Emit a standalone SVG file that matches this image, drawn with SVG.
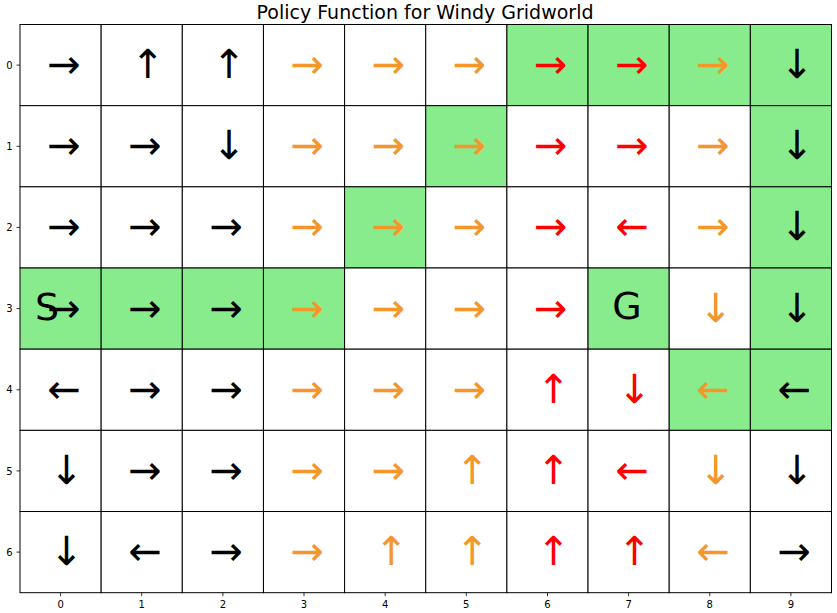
<svg xmlns="http://www.w3.org/2000/svg" width="837" height="613" viewBox="0 0 837 613">
<style>
.c{fill:#ffffff;stroke:#000;stroke-width:1}
.g{fill:#88ec8c;stroke:#000;stroke-width:1}
.a{font-family:"DejaVu Sans",sans-serif;font-size:40px;text-anchor:middle}
.k{fill:#000}
.o{fill:#f5962a}
.r{fill:#ff0000}
.t{font-family:"DejaVu Sans",sans-serif;font-size:10px;fill:#000;text-anchor:middle}
.tk{stroke:#000;stroke-width:0.8}
.L{font-family:"DejaVu Sans",sans-serif;font-size:38px;fill:#000;text-anchor:middle}
</style>
<rect width="837" height="613" fill="#fff"/>
<text x="425" y="19" font-family="DejaVu Sans, sans-serif" font-size="19" text-anchor="middle" fill="#000">Policy Function for Windy Gridworld</text>
<g id="row0">
<g id="cell-0-0"><rect class="c" x="20" y="24.5" width="81.15" height="81.17"/><text class="a k" x="63.9" y="78.1">→</text></g>
<g id="cell-0-1"><rect class="c" x="101.15" y="24.5" width="81.15" height="81.17"/><text class="a k" x="147.7" y="78.1">↑</text></g>
<g id="cell-0-2"><rect class="c" x="182.3" y="24.5" width="81.15" height="81.17"/><text class="a k" x="228.9" y="78.1">↑</text></g>
<g id="cell-0-3"><rect class="c" x="263.45" y="24.5" width="81.15" height="81.17"/><text class="a o" x="307.3" y="78.1">→</text></g>
<g id="cell-0-4"><rect class="c" x="344.6" y="24.5" width="81.15" height="81.17"/><text class="a o" x="388.5" y="78.1">→</text></g>
<g id="cell-0-5"><rect class="c" x="425.75" y="24.5" width="81.15" height="81.17"/><text class="a o" x="469.6" y="78.1">→</text></g>
<g id="cell-0-6"><rect class="g" x="506.9" y="24.5" width="81.15" height="81.17"/><text class="a r" x="550.8" y="78.1">→</text></g>
<g id="cell-0-7"><rect class="g" x="588.05" y="24.5" width="81.15" height="81.17"/><text class="a r" x="631.9" y="78.1">→</text></g>
<g id="cell-0-8"><rect class="g" x="669.2" y="24.5" width="81.15" height="81.17"/><text class="a o" x="713.1" y="78.1">→</text></g>
<g id="cell-0-9"><rect class="g" x="750.35" y="24.5" width="81.15" height="81.17"/><text class="a k" x="796.9" y="78.1">↓</text></g>
</g>
<g id="row1">
<g id="cell-1-0"><rect class="c" x="20" y="105.67" width="81.15" height="81.17"/><text class="a k" x="63.9" y="159.3">→</text></g>
<g id="cell-1-1"><rect class="c" x="101.15" y="105.67" width="81.15" height="81.17"/><text class="a k" x="145" y="159.3">→</text></g>
<g id="cell-1-2"><rect class="c" x="182.3" y="105.67" width="81.15" height="81.17"/><text class="a k" x="228.9" y="159.3">↓</text></g>
<g id="cell-1-3"><rect class="c" x="263.45" y="105.67" width="81.15" height="81.17"/><text class="a o" x="307.3" y="159.3">→</text></g>
<g id="cell-1-4"><rect class="c" x="344.6" y="105.67" width="81.15" height="81.17"/><text class="a o" x="388.5" y="159.3">→</text></g>
<g id="cell-1-5"><rect class="g" x="425.75" y="105.67" width="81.15" height="81.17"/><text class="a o" x="469.6" y="159.3">→</text></g>
<g id="cell-1-6"><rect class="c" x="506.9" y="105.67" width="81.15" height="81.17"/><text class="a r" x="550.8" y="159.3">→</text></g>
<g id="cell-1-7"><rect class="c" x="588.05" y="105.67" width="81.15" height="81.17"/><text class="a r" x="631.9" y="159.3">→</text></g>
<g id="cell-1-8"><rect class="c" x="669.2" y="105.67" width="81.15" height="81.17"/><text class="a o" x="713.1" y="159.3">→</text></g>
<g id="cell-1-9"><rect class="g" x="750.35" y="105.67" width="81.15" height="81.17"/><text class="a k" x="796.9" y="159.3">↓</text></g>
</g>
<g id="row2">
<g id="cell-2-0"><rect class="c" x="20" y="186.84" width="81.15" height="81.17"/><text class="a k" x="63.9" y="240.4">→</text></g>
<g id="cell-2-1"><rect class="c" x="101.15" y="186.84" width="81.15" height="81.17"/><text class="a k" x="145" y="240.4">→</text></g>
<g id="cell-2-2"><rect class="c" x="182.3" y="186.84" width="81.15" height="81.17"/><text class="a k" x="226.2" y="240.4">→</text></g>
<g id="cell-2-3"><rect class="c" x="263.45" y="186.84" width="81.15" height="81.17"/><text class="a o" x="307.3" y="240.4">→</text></g>
<g id="cell-2-4"><rect class="g" x="344.6" y="186.84" width="81.15" height="81.17"/><text class="a o" x="388.5" y="240.4">→</text></g>
<g id="cell-2-5"><rect class="c" x="425.75" y="186.84" width="81.15" height="81.17"/><text class="a o" x="469.6" y="240.4">→</text></g>
<g id="cell-2-6"><rect class="c" x="506.9" y="186.84" width="81.15" height="81.17"/><text class="a r" x="550.8" y="240.4">→</text></g>
<g id="cell-2-7"><rect class="c" x="588.05" y="186.84" width="81.15" height="81.17"/><text class="a r" x="631.9" y="240.4">←</text></g>
<g id="cell-2-8"><rect class="c" x="669.2" y="186.84" width="81.15" height="81.17"/><text class="a o" x="713.1" y="240.4">→</text></g>
<g id="cell-2-9"><rect class="g" x="750.35" y="186.84" width="81.15" height="81.17"/><text class="a k" x="796.9" y="240.4">↓</text></g>
</g>
<g id="row3">
<g id="cell-3-0"><rect class="g" x="20" y="268.01" width="81.15" height="81.17"/><text class="L" x="47" y="320">S</text><text class="a k" x="63.9" y="321.6">→</text></g>
<g id="cell-3-1"><rect class="g" x="101.15" y="268.01" width="81.15" height="81.17"/><text class="a k" x="145" y="321.6">→</text></g>
<g id="cell-3-2"><rect class="g" x="182.3" y="268.01" width="81.15" height="81.17"/><text class="a k" x="226.2" y="321.6">→</text></g>
<g id="cell-3-3"><rect class="g" x="263.45" y="268.01" width="81.15" height="81.17"/><text class="a o" x="307.3" y="321.6">→</text></g>
<g id="cell-3-4"><rect class="c" x="344.6" y="268.01" width="81.15" height="81.17"/><text class="a o" x="388.5" y="321.6">→</text></g>
<g id="cell-3-5"><rect class="c" x="425.75" y="268.01" width="81.15" height="81.17"/><text class="a o" x="469.6" y="321.6">→</text></g>
<g id="cell-3-6"><rect class="c" x="506.9" y="268.01" width="81.15" height="81.17"/><text class="a r" x="550.8" y="321.6">→</text></g>
<g id="cell-3-7"><rect class="g" x="588.05" y="268.01" width="81.15" height="81.17"/><text class="L" x="627" y="319">G</text></g>
<g id="cell-3-8"><rect class="c" x="669.2" y="268.01" width="81.15" height="81.17"/><text class="a o" x="715.8" y="321.6">↓</text></g>
<g id="cell-3-9"><rect class="g" x="750.35" y="268.01" width="81.15" height="81.17"/><text class="a k" x="796.9" y="321.6">↓</text></g>
</g>
<g id="row4">
<g id="cell-4-0"><rect class="c" x="20" y="349.18" width="81.15" height="81.17"/><text class="a k" x="63.9" y="402.8">←</text></g>
<g id="cell-4-1"><rect class="c" x="101.15" y="349.18" width="81.15" height="81.17"/><text class="a k" x="145" y="402.8">→</text></g>
<g id="cell-4-2"><rect class="c" x="182.3" y="349.18" width="81.15" height="81.17"/><text class="a k" x="226.2" y="402.8">→</text></g>
<g id="cell-4-3"><rect class="c" x="263.45" y="349.18" width="81.15" height="81.17"/><text class="a o" x="307.3" y="402.8">→</text></g>
<g id="cell-4-4"><rect class="c" x="344.6" y="349.18" width="81.15" height="81.17"/><text class="a o" x="388.5" y="402.8">→</text></g>
<g id="cell-4-5"><rect class="c" x="425.75" y="349.18" width="81.15" height="81.17"/><text class="a o" x="469.6" y="402.8">→</text></g>
<g id="cell-4-6"><rect class="c" x="506.9" y="349.18" width="81.15" height="81.17"/><text class="a r" x="553.5" y="402.8">↑</text></g>
<g id="cell-4-7"><rect class="c" x="588.05" y="349.18" width="81.15" height="81.17"/><text class="a r" x="634.6" y="402.8">↓</text></g>
<g id="cell-4-8"><rect class="g" x="669.2" y="349.18" width="81.15" height="81.17"/><text class="a o" x="713.1" y="402.8">←</text></g>
<g id="cell-4-9"><rect class="g" x="750.35" y="349.18" width="81.15" height="81.17"/><text class="a k" x="794.2" y="402.8">←</text></g>
</g>
<g id="row5">
<g id="cell-5-0"><rect class="c" x="20" y="430.35" width="81.15" height="81.17"/><text class="a k" x="66.6" y="483.9">↓</text></g>
<g id="cell-5-1"><rect class="c" x="101.15" y="430.35" width="81.15" height="81.17"/><text class="a k" x="145" y="483.9">→</text></g>
<g id="cell-5-2"><rect class="c" x="182.3" y="430.35" width="81.15" height="81.17"/><text class="a k" x="226.2" y="483.9">→</text></g>
<g id="cell-5-3"><rect class="c" x="263.45" y="430.35" width="81.15" height="81.17"/><text class="a o" x="307.3" y="483.9">→</text></g>
<g id="cell-5-4"><rect class="c" x="344.6" y="430.35" width="81.15" height="81.17"/><text class="a o" x="388.5" y="483.9">→</text></g>
<g id="cell-5-5"><rect class="c" x="425.75" y="430.35" width="81.15" height="81.17"/><text class="a o" x="472.3" y="483.9">↑</text></g>
<g id="cell-5-6"><rect class="c" x="506.9" y="430.35" width="81.15" height="81.17"/><text class="a r" x="553.5" y="483.9">↑</text></g>
<g id="cell-5-7"><rect class="c" x="588.05" y="430.35" width="81.15" height="81.17"/><text class="a r" x="631.9" y="483.9">←</text></g>
<g id="cell-5-8"><rect class="c" x="669.2" y="430.35" width="81.15" height="81.17"/><text class="a o" x="715.8" y="483.9">↓</text></g>
<g id="cell-5-9"><rect class="c" x="750.35" y="430.35" width="81.15" height="81.17"/><text class="a k" x="796.9" y="483.9">↓</text></g>
</g>
<g id="row6">
<g id="cell-6-0"><rect class="c" x="20" y="511.52" width="81.15" height="81.17"/><text class="a k" x="66.6" y="565.1">↓</text></g>
<g id="cell-6-1"><rect class="c" x="101.15" y="511.52" width="81.15" height="81.17"/><text class="a k" x="145" y="565.1">←</text></g>
<g id="cell-6-2"><rect class="c" x="182.3" y="511.52" width="81.15" height="81.17"/><text class="a k" x="226.2" y="565.1">→</text></g>
<g id="cell-6-3"><rect class="c" x="263.45" y="511.52" width="81.15" height="81.17"/><text class="a o" x="307.3" y="565.1">→</text></g>
<g id="cell-6-4"><rect class="c" x="344.6" y="511.52" width="81.15" height="81.17"/><text class="a o" x="391.2" y="565.1">↑</text></g>
<g id="cell-6-5"><rect class="c" x="425.75" y="511.52" width="81.15" height="81.17"/><text class="a o" x="472.3" y="565.1">↑</text></g>
<g id="cell-6-6"><rect class="c" x="506.9" y="511.52" width="81.15" height="81.17"/><text class="a r" x="553.5" y="565.1">↑</text></g>
<g id="cell-6-7"><rect class="c" x="588.05" y="511.52" width="81.15" height="81.17"/><text class="a r" x="634.6" y="565.1">↑</text></g>
<g id="cell-6-8"><rect class="c" x="669.2" y="511.52" width="81.15" height="81.17"/><text class="a o" x="713.1" y="565.1">←</text></g>
<g id="cell-6-9"><rect class="c" x="750.35" y="511.52" width="81.15" height="81.17"/><text class="a k" x="794.2" y="565.1">→</text></g>
</g>
<g id="axes">
<path class="tk" d="M16.5 65.1H20M16.5 146.3H20M16.5 227.4H20M16.5 308.6H20M16.5 389.8H20M16.5 470.9H20M16.5 552.1H20"/>
<path class="tk" d="M60.6 592.7V596.2M141.7 592.7V596.2M222.9 592.7V596.2M304 592.7V596.2M385.2 592.7V596.2M466.3 592.7V596.2M547.5 592.7V596.2M628.6 592.7V596.2M709.8 592.7V596.2M790.9 592.7V596.2"/>
<text class="t" x="9.5" y="68.7">0</text>
<text class="t" x="9.5" y="149.9">1</text>
<text class="t" x="9.5" y="231">2</text>
<text class="t" x="9.5" y="312.2">3</text>
<text class="t" x="9.5" y="393.4">4</text>
<text class="t" x="9.5" y="474.5">5</text>
<text class="t" x="9.5" y="555.7">6</text>
<text class="t" x="60.6" y="607.5">0</text>
<text class="t" x="141.7" y="607.5">1</text>
<text class="t" x="222.9" y="607.5">2</text>
<text class="t" x="304" y="607.5">3</text>
<text class="t" x="385.2" y="607.5">4</text>
<text class="t" x="466.3" y="607.5">5</text>
<text class="t" x="547.5" y="607.5">6</text>
<text class="t" x="628.6" y="607.5">7</text>
<text class="t" x="709.8" y="607.5">8</text>
<text class="t" x="790.9" y="607.5">9</text>
</g>
</svg>
